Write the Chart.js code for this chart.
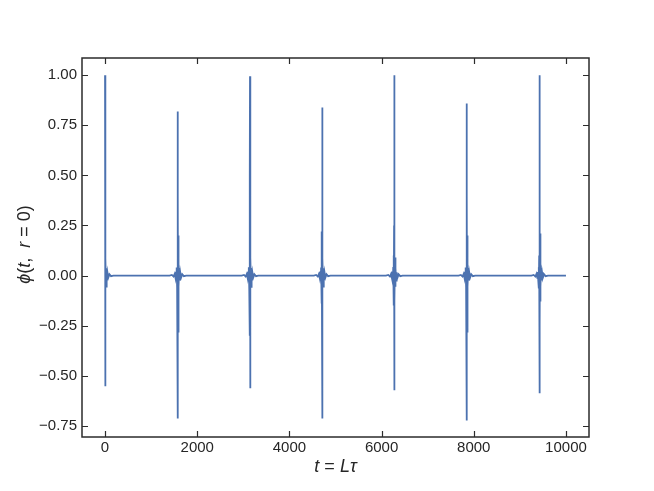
<!DOCTYPE html>
<html>
<head>
<meta charset="utf-8">
<script src="https://cdn.jsdelivr.net/npm/chart.js@4.4.1/dist/chart.umd.min.js"></script>
<style>
  body { margin: 0; background: #fff; }
  #c { display: block; }
</style>
</head>
<body>
<canvas id="c" width="654" height="491"></canvas>
<script>
// data
const xTicks = [0, 2000, 4000, 6000, 8000, 10000];
const yTicks = [-0.75, -0.5, -0.25, 0, 0.25, 0.5, 0.75, 1.0];

// first burst starts at t = 0
const firstT = [0, 1, 2, 4, 7, 11, 16, 22, 30, 40, 52, 70, 95, 130, 180];
const firstPhi = [1.0, -0.553, 0.5, -0.3, 0.2, -0.13, 0.085, -0.055, 0.037, -0.024, 0.016, -0.01, 0.006, -0.003, 0];

// later bursts: centre time + shared offsets
const burstCentres = [1580, 3145, 4710, 6275, 7850, 9430];
const burstOffsets = [-180, -130, -95, -70, -52, -40, -30, -22, -16, -11, -7, -4, -2, -1, 0, 1, 2, 4, 7, 11, 16, 22, 30, 40, 52, 70, 95, 130, 180];
const burstPhi = [
    [0, 0.003, -0.005, 0.008, -0.012, 0.018, -0.026, 0.04, -0.06, 0.09, -0.14, 0.22, -0.3, 0.45, 0.819, -0.714, 0.4, -0.28, 0.2, -0.13, 0.085, -0.055, 0.037, -0.024, 0.016, -0.01, 0.006, -0.003, 0],
    [0, 0.003, -0.005, 0.008, -0.012, 0.018, -0.027, 0.042, -0.065, 0.1, -0.15, 0.25, -0.3, 0.5, 0.995, -0.563, 0.42, -0.26, 0.21, -0.13, 0.09, -0.056, 0.038, -0.025, 0.016, -0.01, 0.006, -0.003, 0],
    [0, 0.003, -0.005, 0.008, -0.012, 0.018, -0.026, 0.04, -0.06, 0.09, -0.14, 0.22, -0.3, 0.45, 0.839, -0.714, 0.4, -0.28, 0.2, -0.13, 0.085, -0.055, 0.037, -0.024, 0.016, -0.01, 0.006, -0.003, 0],
    [0, 0.003, -0.005, 0.008, -0.012, 0.018, -0.027, 0.042, -0.065, 0.1, -0.15, 0.25, -0.3, 0.5, 1.0, -0.573, 0.42, -0.26, 0.21, -0.13, 0.09, -0.056, 0.038, -0.025, 0.016, -0.01, 0.006, -0.003, 0],
    [0, 0.003, -0.005, 0.008, -0.012, 0.018, -0.026, 0.04, -0.06, 0.09, -0.14, 0.22, -0.3, 0.45, 0.859, -0.724, 0.4, -0.28, 0.2, -0.13, 0.085, -0.055, 0.037, -0.024, 0.016, -0.01, 0.006, -0.003, 0],
    [0, 0.003, -0.005, 0.008, -0.012, 0.018, -0.027, 0.042, -0.065, 0.1, -0.15, 0.25, -0.3, 0.5, 1.0, -0.588, 0.42, -0.26, 0.21, -0.13, 0.09, -0.056, 0.038, -0.025, 0.016, -0.01, 0.006, -0.003, 0]
];
const endT = 10000;

const points = firstT.map((t, i) => ({ x: t, y: firstPhi[i] }));
burstCentres.forEach((c, k) => {
    burstOffsets.forEach((o, i) => points.push({ x: c + o, y: burstPhi[k][i] }));
});
points.push({ x: endT, y: 0 });

const frameColor = "#2b2b2b";
const textColor = "#262626";
const fontName = "'Liberation Sans', Arial, sans-serif";

// box + inward ticks on all four sides, axis titles
const frameTicks = {
    id: "frameTicks",
    afterDraw(chart) {
        const { ctx, chartArea: a, scales } = chart;
        ctx.save();
        ctx.strokeStyle = frameColor;
        ctx.lineWidth = 1.2;
        ctx.beginPath();
        xTicks.forEach(v => {
            const px = Math.round(scales.x.getPixelForValue(v)) + 0.5;
            ctx.moveTo(px, a.bottom); ctx.lineTo(px, a.bottom - 6);
            ctx.moveTo(px, a.top); ctx.lineTo(px, a.top + 6);
        });
        yTicks.forEach(v => {
            const py = Math.round(scales.y.getPixelForValue(v)) + 0.5;
            ctx.moveTo(a.left, py); ctx.lineTo(a.left + 6, py);
            ctx.moveTo(a.right, py); ctx.lineTo(a.right - 6, py);
        });
        ctx.stroke();
        ctx.lineWidth = 1.5;
        ctx.strokeRect(a.left, a.top, a.right - a.left, a.bottom - a.top);

        // mathtext-like titles
        const drawParts = (parts, cx, cy) => {
            let w = 0;
            parts.forEach(p => {
                ctx.font = (p[1] ? "italic " : "") + "18px " + fontName;
                w += ctx.measureText(p[0]).width;
            });
            let x = cx - w / 2;
            parts.forEach(p => {
                ctx.font = (p[1] ? "italic " : "") + "18px " + fontName;
                ctx.fillText(p[0], x, cy);
                x += ctx.measureText(p[0]).width;
            });
        };
        ctx.fillStyle = textColor;
        ctx.textBaseline = "middle";
        drawParts([["t", true], [" = ", false], ["L", true], ["τ", true]], (a.left + a.right) / 2, 467);
        ctx.save();
        ctx.translate(25, (a.top + a.bottom) / 2 - 3);
        ctx.rotate(-Math.PI / 2);
        drawParts([["ϕ", true], ["(", false], ["t", true], [",  ", false], ["r", true], [" = 0)", false]], 0, 0);
        ctx.restore();
        ctx.restore();
    }
};

new Chart(document.getElementById("c"), {
    type: "line",
    data: {
        datasets: [{
            data: points,
            borderColor: "#4c72b0",
            borderWidth: 1.8,
            pointRadius: 0,
            tension: 0,
            fill: false
        }]
    },
    options: {
        responsive: false,
        animation: false,
        layout: { padding: { left: 0, top: 58, right: 65, bottom: 0 } },
        plugins: { legend: { display: false }, tooltip: { enabled: false } },
        scales: {
            x: {
                type: "linear",
                min: -500,
                max: 10500,
                grid: { display: false, drawTicks: false },
                border: { display: false },
                afterBuildTicks: s => { s.ticks = xTicks.map(v => ({ value: v })); },
                afterFit: s => { s.height = 54; },
                ticks: {
                    padding: 2,
                    color: textColor,
                    font: { family: fontName, size: 15 },
                    maxRotation: 0,
                    callback: v => String(v)
                }
            },
            y: {
                type: "linear",
                min: -0.806,
                max: 1.086,
                grid: { display: false, drawTicks: false },
                border: { display: false },
                afterBuildTicks: s => { s.ticks = yTicks.map(v => ({ value: v })); },
                afterFit: s => { s.width = 82; },
                ticks: {
                    padding: 5,
                    color: textColor,
                    font: { family: fontName, size: 15 },
                    callback: v => v.toFixed(2).replace("-", "\u2212")
                }
            }
        }
    },
    plugins: [frameTicks]
});
</script>
</body>
</html>
